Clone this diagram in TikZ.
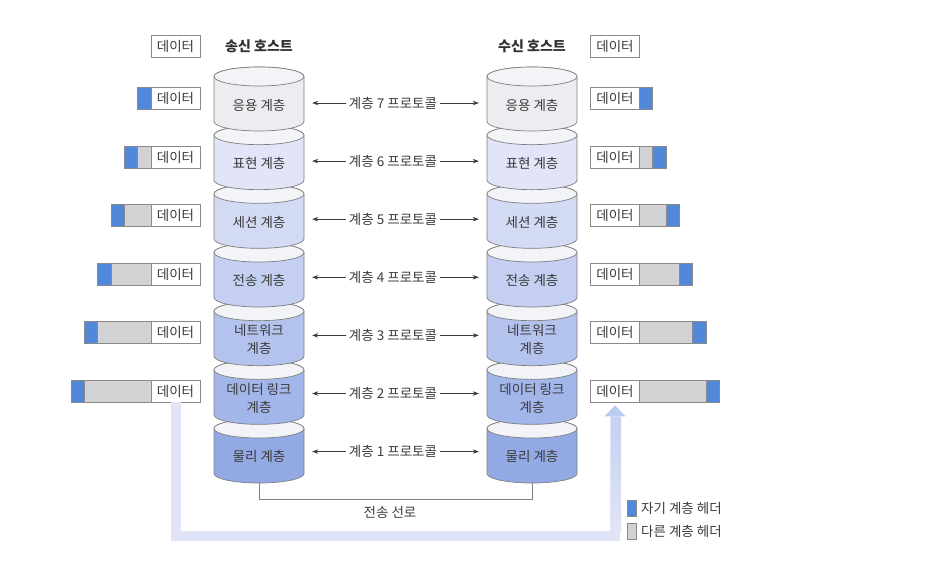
\documentclass[tikz,border=0pt]{standalone}
\usepackage{fontspec}
\setmainfont{Noto Sans CJK KR}
\usetikzlibrary{arrows.meta}

\definecolor{lay7}{HTML}{EDEDF1}
\definecolor{lay6}{HTML}{E1E5F7}
\definecolor{lay5}{HTML}{D3DAF4}
\definecolor{lay4}{HTML}{C4CFF1}
\definecolor{lay3}{HTML}{B4C3EE}
\definecolor{lay2}{HTML}{A3B6EA}
\definecolor{lay1}{HTML}{92A9E4}
\definecolor{laytop}{HTML}{F3F4F8}
\definecolor{edge}{HTML}{7F7F7F}
\definecolor{boxline}{HTML}{8A8A8A}
\definecolor{txt}{HTML}{3C3C3C}
\definecolor{hdrblue}{HTML}{5288DC}
\definecolor{hdrgray}{HTML}{D2D2D4}
\definecolor{flowc}{HTML}{E0E4F6}
\definecolor{flowtip}{HTML}{BCCBF0}

\tikzset{
  layerbody/.style={draw=edge, line width=0.7pt},
  laytext/.style={text=txt, align=center, minimum width=106pt, inner sep=0pt, font=\fontsize{13.5}{18}\selectfont},
  proto/.style={text=txt, inner sep=2.5pt, font=\fontsize{13.5}{15}\selectfont},
  protoline/.style={draw=txt, line width=0.6pt, -{Stealth[length=6pt,width=4.5pt]}},
  databox/.style={draw=boxline, fill=white, line width=0.8pt, minimum width=49pt, minimum height=22pt, inner sep=0pt, text=txt, font=\fontsize{13.5}{15}\selectfont},
  ownhdr/.style={draw=boxline, fill=hdrblue, line width=0.8pt},
  otherhdr/.style={draw=boxline, fill=hdrgray, line width=0.8pt},
  hosttitle/.style={text=txt!80!black, font=\fontsize{14}{16}\selectfont\bfseries},
  wire/.style={draw=edge, line width=0.8pt},
  flow/.style={draw=flowc, line width=10pt, shorten >=3pt, -{Triangle[length=11pt,width=21pt,color=flowtip]}},
  legendtext/.style={anchor=west, text=txt, inner sep=0pt, font=\fontsize{13.5}{15}\selectfont},
}

\begin{document}
\begin{tikzpicture}[x=1pt,y=-1pt,line join=miter]
  \useasboundingbox (0,0) rectangle (936,564);

  % both stacks, lowest layer first
  \foreach \n in {1,...,7} {
    \pgfmathsetmacro\yt{76.5+58.67*(7-\n)}
    \foreach \cx in {259,532} {
      \filldraw[layerbody, fill=lay\n] (\cx-45,\yt) -- ++(0,45)
        arc[start angle=180, end angle=0, x radius=45, y radius=9.5] -- ++(0,-45)
        arc[start angle=0, end angle=-180, x radius=45, y radius=9.5] -- cycle;
      \filldraw[layerbody, fill=laytop] (\cx,\yt) ellipse [x radius=45, y radius=9.5];
    }
  }

  \foreach \n/\name in {7/응용 계층,6/표현 계층,5/세션 계층,4/전송 계층,3/{네트워크\\계층},2/{데이터 링크\\계층},1/물리 계층} {
    \pgfmathsetmacro\yl{105+58.6*(7-\n)}
    \pgfmathsetmacro\yp{103+58.1*(7-\n)}
    \node[laytext] (s\n) at (259,\yl) {\name};
    \node[laytext] (r\n) at (532,\yl) {\name};
    \node[proto] (p\n) at (393,\yp) {계층 \n\ 프로토콜};
    \draw[protoline] (p\n.west) -- (p\n.west -| s\n.east);
    \draw[protoline] (p\n.east) -- (p\n.east -| r\n.west);
  }

  % data with headers
  \node[databox] (ld8) at (175.5,46.5) {데이터};
  \node[databox] (rd8) at (615,46.5) {데이터};
  \foreach \n in {2,...,7} {
    \pgfmathsetmacro\yb{98.5+58.5*(7-\n)}
    \pgfmathsetmacro\la{151-13.3*(8-\n)}
    \pgfmathsetmacro\lb{151-13.3*(7-\n)}
    \pgfmathsetmacro\ra{639.5+13.3*(7-\n)}
    \pgfmathsetmacro\rb{639.5+13.3*(8-\n)}
    \node[databox] (ld\n) at (175.5,\yb) {데이터};
    \node[databox] (rd\n) at (615,\yb) {데이터};
    \filldraw[otherhdr] (\lb,\yb-11) rectangle (151,\yb+11);
    \filldraw[ownhdr] (\la,\yb-11) rectangle (\lb,\yb+11);
    \filldraw[otherhdr] (639.5,\yb-11) rectangle (\ra,\yb+11);
    \filldraw[ownhdr] (\ra,\yb-11) rectangle (\rb,\yb+11);
  }

  \node[hosttitle] (snd) at (259,46) {송신 호스트};
  \node[hosttitle] (rcv) at (532,46) {수신 호스트};

  % wire
  \coordinate (sb) at (259,483);
  \coordinate (rb) at (532,483);
  \draw[wire] (sb) -- ++(0,16) -| (rb);
  \node[proto] (line) at (390,512) {전송 선로};

  % path of the data
  \coordinate (fb) at (400,536);
  \draw[flow] (ld2.south) |- (fb) -| (rd2.south);
  \shade[bottom color=flowc, top color=flowtip!75!flowc] (611,531) rectangle (621,417);

  % legend
  \filldraw[ownhdr] (627,500) rectangle (636,516);
  \filldraw[otherhdr] (627,523) rectangle (636,539);
  \node[legendtext] (own) at (641,508) {자기 계층 헤더};
  \node[legendtext] (oth) at (641,531) {다른 계층 헤더};
\end{tikzpicture}
\end{document}
